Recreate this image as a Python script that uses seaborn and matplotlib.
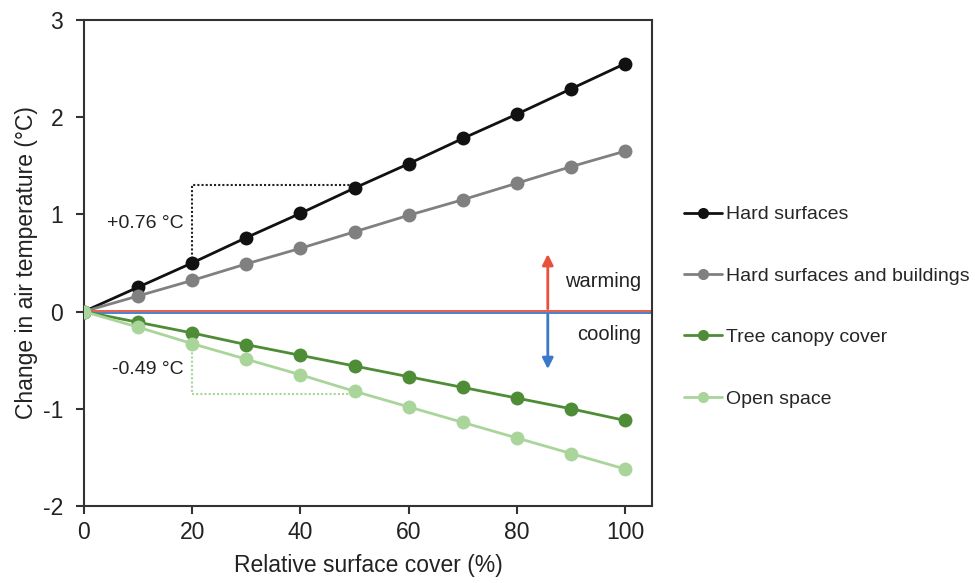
import matplotlib
matplotlib.use("Agg")
import numpy as np
import pandas as pd
import matplotlib.pyplot as plt
import seaborn as sns

# ------------------------------------------------------------
# DATA
# ------------------------------------------------------------

cover_pct = [0, 10, 20, 30, 40, 50, 60, 70, 80, 90, 100]

hard_surfaces = [0, 0.25, 0.50, 0.76, 1.01, 1.27, 1.52, 1.78, 2.03, 2.29, 2.55]
hard_and_buildings = [0, 0.16, 0.32, 0.49, 0.65, 0.82, 0.99, 1.15, 1.32, 1.49, 1.65]
tree_canopy = [0, -0.11, -0.22, -0.34, -0.45, -0.56, -0.67, -0.78, -0.89, -1.00, -1.12]
open_space = [0, -0.16, -0.33, -0.49, -0.65, -0.82, -0.98, -1.14, -1.30, -1.46, -1.62]

series_names = [
    "Hard surfaces",
    "Hard surfaces and buildings",
    "Tree canopy cover",
    "Open space",
]
series_colors = ["#111111", "#808080", "#4e8c36", "#a9d59b"]

# dotted "step" guides and their labels
warm_step_x = [20, 20, 50]
warm_step_y = [0.50, 1.30, 1.30]
warm_label = "+0.76 °C"
cool_step_x = [20, 20, 50]
cool_step_y = [-0.33, -0.85, -0.85]
cool_label = "-0.49 °C"

x_ticks = [0, 20, 40, 60, 80, 100]
y_ticks = [-2, -1, 0, 1, 2, 3]

# ------------------------------------------------------------
# LONG FORMAT TABLE
# ------------------------------------------------------------

df = pd.DataFrame({
    "cover": cover_pct * 4,
    "dT": hard_surfaces + hard_and_buildings + tree_canopy + open_space,
    "series": np.repeat(series_names, len(cover_pct)),
})

# ------------------------------------------------------------
# PLOT
# ------------------------------------------------------------

sns.set_style("ticks")
plt.rcParams["font.family"] = ["Liberation Sans", "DejaVu Sans"]
plt.rcParams["axes.unicode_minus"] = False

fig = plt.figure(figsize=(9.75, 5.83), dpi=100)
ax = fig.add_axes([0.086, 0.132, 0.583, 0.834])

# zero line (red above, blue below)
ax.axhline(0.01, color="#e8503a", lw=1.3, zorder=1)
ax.axhline(-0.01, color="#3a78c9", lw=1.3, zorder=1)

sns.lineplot(
    data=df,
    x="cover",
    y="dT",
    hue="series",
    hue_order=series_names,
    palette=series_colors,
    marker="o",
    markersize=10,
    markeredgewidth=0,
    linewidth=2,
    ax=ax,
    zorder=3,
)

# dotted guides
ax.plot(warm_step_x, warm_step_y, ls=(0, (1, 1)), color="#222222", lw=1.5, zorder=2)
ax.plot(cool_step_x, cool_step_y, ls=(0, (1, 1)), color="#a9d59b", lw=1.5, zorder=2)
ax.text(18.5, 0.91, warm_label, ha="right", va="center", fontsize=14, color="#222222")
ax.text(18.5, -0.60, cool_label, ha="right", va="center", fontsize=14, color="#222222")

# warming / cooling arrows
ax.annotate("", xy=(85.7, 0.62), xytext=(85.7, 0.0),
            arrowprops=dict(arrowstyle="-|>", color="#e8503a", lw=2, mutation_scale=16))
ax.annotate("", xy=(85.7, -0.62), xytext=(85.7, 0.0),
            arrowprops=dict(arrowstyle="-|>", color="#3a78c9", lw=2, mutation_scale=16))
ax.text(103, 0.31, "warming", ha="right", va="center", fontsize=14.5, color="#222222")
ax.text(103, -0.24, "cooling", ha="right", va="center", fontsize=14.5, color="#222222")

ax.set_xlim(0, 105)
ax.set_ylim(-2, 3)
ax.set_xticks(x_ticks)
ax.set_yticks(y_ticks)
ax.tick_params(axis="both", labelsize=16.5, length=6, width=1.5, colors="#333333",
               labelcolor="#222222", direction="out")
ax.tick_params(axis="y", pad=9)
ax.tick_params(axis="x", pad=5)

for side in ["left", "right", "top", "bottom"]:
    ax.spines[side].set_visible(True)
    ax.spines[side].set_linewidth(1.5)
    ax.spines[side].set_color("#333333")

ax.set_xlabel("Relative surface cover (%)", fontsize=16.5, color="#222222", labelpad=7)
ax.set_ylabel("Change in air temperature (°C)", fontsize=16.5, color="#222222", labelpad=3)

leg = ax.legend(
    loc="center left",
    bbox_to_anchor=(1.055, 0.41),
    frameon=False,
    fontsize=14,
    borderpad=0,
    borderaxespad=0,
    handlelength=2.0,
    handletextpad=0.2,
    labelspacing=2.25,
)
for h in leg.legend_handles:
    h.set_markersize(8)
    h.set_linewidth(2)

fig.savefig("out.png", dpi=100)
plt.close(fig)
